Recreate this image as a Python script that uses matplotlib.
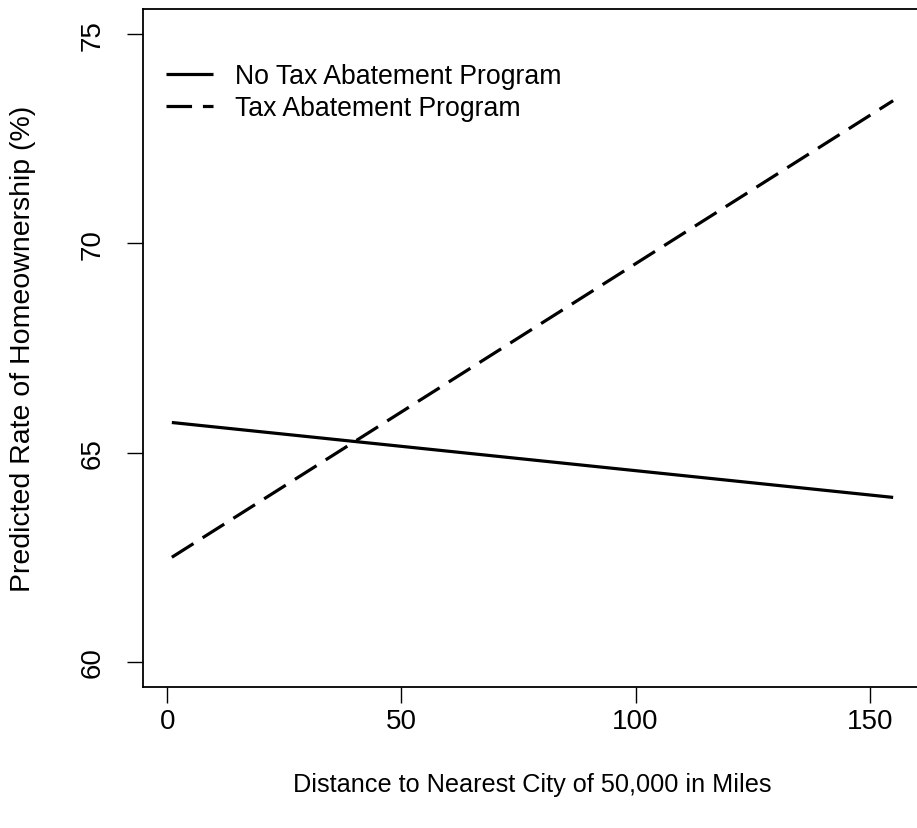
import matplotlib
matplotlib.use("Agg")
import matplotlib.pyplot as plt

# ---- data ----
distance = [1, 155]
no_program = [65.72, 63.93]
program = [62.50, 73.41]
x_ticks = [0, 50, 100, 150]
y_ticks = [60, 65, 70, 75]
series_labels = ["No Tax Abatement Program", "Tax Abatement Program"]
x_label = "Distance to Nearest City of 50,000 in Miles"
y_label = "Predicted Rate of Homeownership (%)"

plt.rcParams["font.family"] = ["Liberation Sans", "DejaVu Sans"]

W, H = 917, 829
fig = plt.figure(figsize=(W / 100, H / 100), dpi=100)
# plot region in pixels: left 143, right 922 (clipped by figure), top 10, bottom 688
ax = fig.add_axes([143 / W, (H - 688) / H, (922 - 143) / W, (688 - 10) / H])

# R-style 4% padding around the data range
xr = max(distance) - min(distance)
ax.set_xlim(min(distance) - 0.04 * xr, max(distance) + 0.04 * xr)
yr = max(y_ticks) - min(y_ticks)
ax.set_ylim(min(y_ticks) - 0.04 * yr, max(y_ticks) + 0.04 * yr)

ax.plot(distance, no_program, color="black", lw=2.3, solid_capstyle="butt",
        label=series_labels[0])
ln2, = ax.plot(distance, program, color="black", lw=2.3, dash_capstyle="butt",
               label=series_labels[1])
ln2.set_dashes((8.0, 3.4))

ax.set_xticks(x_ticks)
ax.set_xticklabels([str(v) for v in x_ticks])
ax.set_yticks(y_ticks)
ax.set_yticklabels([str(v) for v in y_ticks], rotation=90, va="center")

ax.tick_params(axis="both", direction="out", length=11.8, width=1.0,
               color="black", labelsize=20, labelcolor="black")
ax.tick_params(axis="x", pad=3)
ax.tick_params(axis="y", pad=15)

for s in ax.spines.values():
    s.set_linewidth(1.3)
    s.set_color("black")

ax.set_xlabel(x_label, fontsize=18.2)
ax.xaxis.set_label_coords(0.5, (688 - 785) / 678)
ax.set_ylabel(y_label, fontsize=20.5)
ax.yaxis.set_label_coords((23 - 143) / 779, 0.5)
ax.xaxis.label.set_va("center")
ax.yaxis.label.set_va("center")

leg = ax.legend(loc="upper left", bbox_to_anchor=(166 / W, (H - 64) / H),
                bbox_transform=fig.transFigure, frameon=False, fontsize=19.2,
                handlelength=1.75, handletextpad=0.85, labelspacing=0.24,
                borderpad=0, borderaxespad=0)

fig.savefig("out.png", dpi=100)
